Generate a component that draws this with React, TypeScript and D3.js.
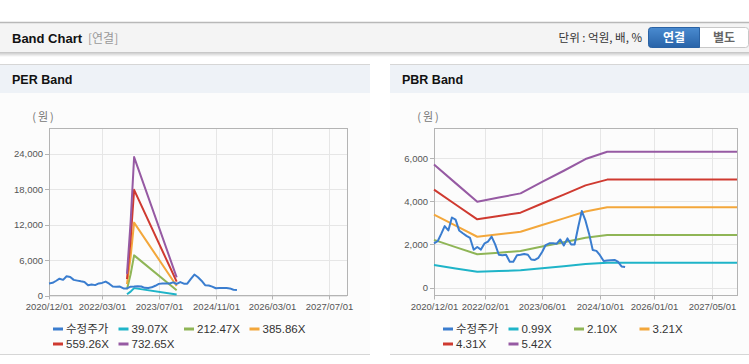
import React from "react";
import * as d3 from "d3";

// ---------- DATA ----------
const priceDates = [
  "2020-12-01","2021-01-01","2021-02-01","2021-03-01","2021-04-01","2021-05-01","2021-06-01","2021-07-01","2021-08-01","2021-09-01",
  "2021-10-01","2021-11-01","2021-12-01","2022-01-01","2022-02-01","2022-03-01","2022-04-01","2022-05-01","2022-06-01","2022-07-01",
  "2022-08-01","2022-09-01","2022-10-01","2022-11-01","2022-12-01","2023-01-01","2023-02-01","2023-03-01","2023-04-01","2023-05-01",
  "2023-06-01","2023-07-01","2023-08-01","2023-09-01","2023-10-01","2023-11-01","2023-12-01","2024-01-01","2024-02-01","2024-03-01",
  "2024-04-01","2024-05-01","2024-06-01","2024-07-01","2024-08-01","2024-09-01","2024-10-01","2024-11-01","2024-12-01","2025-01-01",
  "2025-02-01","2025-03-01","2025-04-01","2025-05-01",
];
const priceValues = [
  2050, 2150, 2500, 2850, 2650, 3250, 3150, 2650, 2520, 2400,
  2300, 1750, 1880, 1760, 2050, 2130, 2360, 2000, 1520, 1500,
  1520, 1200, 1200, 1500, 1520, 1560, 1520, 1300, 1280, 1380,
  1650, 1970, 2050, 2050, 2030, 2230, 1950, 2280, 2000, 2000,
  2820, 3550, 3100, 2500, 1740, 1700, 1500, 1230, 1250, 1270,
  1280, 1200, 980, 950,
];

// PER band
const perBandDates = ["2022-10-01", "2022-11-01", "2022-12-01", "2023-12-01"];
const per39 = [200, 660, 1250, 164];
const per212 = [1060, 3610, 6800, 892];
const per385 = [1930, 6560, 12350, 1620];
const per559 = [2800, 9510, 17900, 2350];
const per732 = [3660, 12450, 23450, 3080];
const perLabels = ["수정주가", "39.07X", "212.47X", "385.86X", "559.26X", "732.65X"];
const perYTicks = [0, 6000, 12000, 18000, 24000];
const perXTicks = ["2020-12-01", "2022-03-01", "2023-07-01", "2024-11-01", "2026-03-01", "2027-07-01"];

// PBR band
const pbrBandDates = [
  "2020-12-01","2021-06-01","2021-12-01","2022-06-01","2022-12-01",
  "2023-06-01","2023-12-01","2024-06-01","2024-12-01","2027-12-01",
];
const pbr099 = [1043, 885, 727, 762, 798, 896, 990, 1089, 1150, 1150];
const pbr210 = [2213, 1877, 1541, 1617, 1693, 1901, 2100, 2310, 2440, 2440];
const pbr321 = [3383, 2870, 2356, 2472, 2587, 2905, 3210, 3531, 3730, 3730];
const pbr431 = [4543, 3853, 3164, 3319, 3474, 3901, 4310, 4741, 5008, 5008];
const pbr542 = [5713, 4845, 3978, 4173, 4369, 4905, 5420, 5962, 6298, 6298];
const pbrLabels = ["수정주가", "0.99X", "2.10X", "3.21X", "4.31X", "5.42X"];
const pbrYTicks = [0, 2000, 4000, 6000];
const pbrXTicks = ["2020-12-01", "2022-02-01", "2023-06-01", "2024-10-01", "2026-01-01", "2027-05-01"];

const xDomain = ["2020-12-01", "2027-12-01"];

// ---------- STYLE ----------
const COLORS = ["#3a7dcf", "#1fb4c8", "#8fb556", "#f3a73b", "#cf3a30", "#965aa3"];
const FONT = "'Liberation Sans', Arial, sans-serif";
const KFONT = "'Noto Sans CJK KR', 'Liberation Sans', sans-serif";

const parse = d3.timeParse("%Y-%m-%d");
const fmtTick = d3.timeFormat("%Y/%m/%d");
const fmtNum = d3.format(",");

type Series = { dates: string[]; values: number[] };

function Panel(props: {
  x0: number; title: string; left: number; right: number; yDomain: [number, number];
  yTicks: number[]; xTicks: string[]; series: Series[]; labels: string[]; legendX: number; panelW: number;
}) {
  const { x0, title, left, right, yDomain, yTicks, xTicks, series, labels, legendX, panelW } = props;
  const top = 128.5, bottom = 295.5;
  const x = d3.scaleTime().domain(xDomain.map((d) => parse(d) as Date)).range([left, right]);
  const y = d3.scaleLinear().domain(yDomain).range([bottom, top]);
  const line = d3.line<[Date, number]>().x((d) => x(d[0])).y((d) => y(d[1]));
  const colStep = 65.5;
  const toPts = (s: Series) => s.dates.map((d, k) => [parse(d) as Date, s.values[k]] as [Date, number]);
  const drawOrder = [1, 2, 3, 4, 5, 0];
  return (
    <g>
      <rect x={x0} y={64} width={panelW} height={290} fill="#fcfcfc" />
      <rect x={x0} y={64} width={panelW} height={29} fill="#eef2f7" />
      <line x1={x0} x2={x0 + panelW} y1={64.5} y2={64.5} stroke="#d6d6d6" />
      <line x1={x0} x2={x0 + panelW} y1={354.5} y2={354.5} stroke="#d6d6d6" />
      <text x={x0 + 12} y={84} fontFamily={FONT} fontWeight="bold" fontSize={12.5} fill="#111">{title}</text>
      <text x={left - 5} y={121} fontFamily={KFONT} fontSize={11} fill="#777" textAnchor="middle" letterSpacing={2}>(원)</text>
      {/* grid */}
      {yTicks.map((t) => (
        <line key={"gy" + t} x1={left} x2={right} y1={Math.round(y(t)) + 0.5} y2={Math.round(y(t)) + 0.5} stroke="#e6e6e6" />
      ))}
      {xTicks.slice(1).map((t) => (
        <line key={"gx" + t} x1={Math.round(x(parse(t) as Date)) + 0.5} x2={Math.round(x(parse(t) as Date)) + 0.5} y1={top} y2={bottom} stroke="#e6e6e6" />
      ))}
      <rect x={left + 0.5} y={top} width={right - left} height={bottom - top} fill="none" stroke="#b4b4b4" />
      {/* y ticks */}
      {yTicks.map((t) => (
        <g key={"ty" + t}>
          <line x1={left - 4} x2={left} y1={Math.round(y(t)) + 0.5} y2={Math.round(y(t)) + 0.5} stroke="#b4b4b4" />
          <text x={left - 6} y={y(t) + 3.5} fontFamily={FONT} fontSize={9.5} fill="#555" textAnchor="end">{fmtNum(t)}</text>
        </g>
      ))}
      {xTicks.map((t) => {
        const px = Math.round(x(parse(t) as Date)) + 0.5;
        return (
          <g key={"tx" + t}>
            <line x1={px} x2={px} y1={bottom} y2={bottom + 4} stroke="#b4b4b4" />
            <text x={px} y={310} fontFamily={FONT} fontSize={9.5} fill="#555" textAnchor="middle">{fmtTick(parse(t) as Date)}</text>
          </g>
        );
      })}
      {/* series */}
      {drawOrder.map((i) => (
        <path key={"s" + i} d={line(toPts(series[i])) || ""} fill="none" stroke={COLORS[i]} strokeWidth={2} strokeLinejoin="round" />
      ))}
      {/* legend */}
      {labels.map((lab, i) => {
        const col = i % 4, row = Math.floor(i / 4);
        const lx = legendX + col * colStep;
        const ly = 329 + row * 15;
        return (
          <g key={"lg" + i}>
            <line x1={lx} x2={lx + 10} y1={ly} y2={ly} stroke={COLORS[i]} strokeWidth={3} />
            <text x={lx + 13} y={ly + 4} fontFamily={i === 0 ? KFONT : FONT} fontSize={11.5} fill="#333">{lab}</text>
          </g>
        );
      })}
    </g>
  );
}

export default function App() {
  const perSeries: Series[] = [
    { dates: priceDates, values: priceValues },
    { dates: perBandDates, values: per39 },
    { dates: perBandDates, values: per212 },
    { dates: perBandDates, values: per385 },
    { dates: perBandDates, values: per559 },
    { dates: perBandDates, values: per732 },
  ];
  const pbrSeries: Series[] = [
    { dates: priceDates, values: priceValues },
    { dates: pbrBandDates, values: pbr099 },
    { dates: pbrBandDates, values: pbr210 },
    { dates: pbrBandDates, values: pbr321 },
    { dates: pbrBandDates, values: pbr431 },
    { dates: pbrBandDates, values: pbr542 },
  ];
  return (
    <svg width={749} height={364} style={{ position: "absolute", left: 0, top: 0, background: "#fff" }}>
      <defs>
        <linearGradient id="btn" x1="0" y1="0" x2="0" y2="1">
          <stop offset="0" stopColor="#4a8bd0" />
          <stop offset="1" stopColor="#2863a8" />
        </linearGradient>
        <linearGradient id="shadow" x1="0" y1="0" x2="0" y2="1">
          <stop offset="0" stopColor="#cfcfcf" />
          <stop offset="1" stopColor="#ffffff" />
        </linearGradient>
      </defs>
      {/* header */}
      <rect x={0} y={22} width={749} height={31} fill="#f4f4f4" />
      <line x1={0} x2={749} y1={22.5} y2={22.5} stroke="#b8b8b8" strokeWidth={1.5} />
      <rect x={0} y={53} width={749} height={4} fill="url(#shadow)" />
      <line x1={0} x2={749} y1={52.5} y2={52.5} stroke="#c8c8c8" />
      <text x={12} y={43} fontFamily={FONT} fontWeight="bold" fontSize={13} fill="#111">Band Chart</text>
      <text x={88} y={43} fontFamily={KFONT} fontSize={12} fill="#999">[연결]</text>
      <text x={642} y={42} fontFamily={KFONT} fontSize={11.5} fill="#333" textAnchor="end">단위 : 억원, 배, %</text>
      <rect x={648.5} y={27.5} width={100} height={20} rx={3} fill="#fff" stroke="#c8c8c8" />
      <path d="M651.5,27.5 H699.5 V47.5 H651.5 A3,3 0 0 1 648.5,44.5 V30.5 A3,3 0 0 1 651.5,27.5 Z" fill="url(#btn)" stroke="#2a62a4" />
      <text x={674} y={42} fontFamily={KFONT} fontWeight="bold" fontSize={12} fill="#fff" textAnchor="middle">연결</text>
      <text x={724} y={42} fontFamily={KFONT} fontWeight="bold" fontSize={12} fill="#666" textAnchor="middle">별도</text>

      <Panel x0={0} panelW={370} title="PER Band" left={49} right={347} yDomain={[0, 28300]} yTicks={perYTicks}
        xTicks={perXTicks} series={perSeries} labels={perLabels} legendX={53} />
      <Panel x0={390} panelW={359} title="PBR Band" left={434} right={737} yDomain={[-370, 7380]} yTicks={pbrYTicks}
        xTicks={pbrXTicks} series={pbrSeries} labels={pbrLabels} legendX={443} />
    </svg>
  );
}
